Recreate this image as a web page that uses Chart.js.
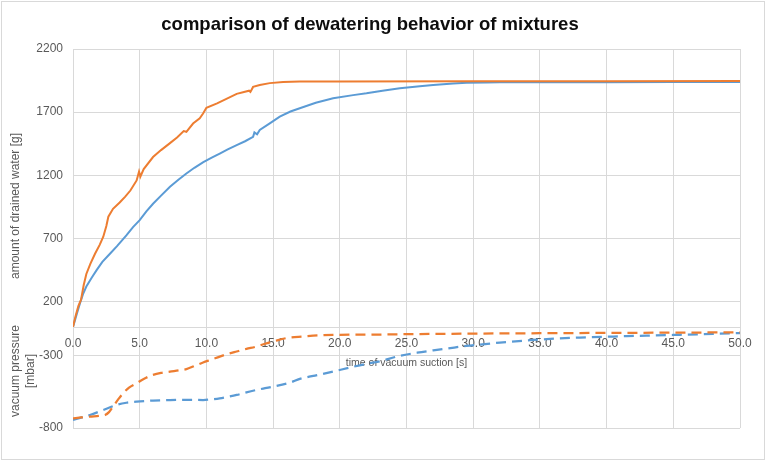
<!DOCTYPE html>
<html lang="en">
<head>
<meta charset="UTF-8">
<title>comparison of dewatering behavior of mixtures</title>
<script src="https://cdn.jsdelivr.net/npm/chart.js"></script>
<style>
    html, body {
        margin: 0;
        padding: 0;
        background: #fff;
    }
    .chart-container {
        position: relative;
        width: 768px;
        height: 461px;
    }
    .frame {
        position: absolute;
        left: 1px;
        top: 1px;
        width: 762px;
        height: 457px;
        border: 1px solid #d9d9d9;
        pointer-events: none;
    }
</style>
</head>
<body>
<div class="chart-container">
    <canvas id="dewateringChart"></canvas>
    <div class="frame"></div>
</div>

<script>
// drained water [g] over time [s]
const waterTimeA = [0, 0.2, 0.4, 0.5, 0.6, 0.8, 1.0, 1.3, 1.65, 2.0, 2.27, 2.5, 2.65, 3.0, 3.5, 3.9, 4.3, 4.77, 4.95, 5.05, 5.3, 6.0, 6.6, 7.27, 7.8, 8.3, 8.5, 9.0, 9.5, 9.75, 10.0, 10.8, 11.5, 12.27, 13.2, 13.3, 13.5, 14.0, 14.75, 15.75, 17, 20, 30, 40, 50];
const waterA = [0, 90, 165, 190, 215, 330, 420, 500, 580, 650, 715, 800, 873, 935, 985, 1030, 1080, 1160, 1230, 1190, 1250, 1345, 1400, 1455, 1500, 1550, 1545, 1610, 1652, 1690, 1735, 1770, 1805, 1845, 1870, 1860, 1900, 1915, 1930, 1939, 1942, 1943, 1944, 1945, 1946];

const waterTimeB = [0, 0.3, 0.52, 0.75, 1.0, 1.4, 1.77, 2.2, 2.77, 3.3, 4.0, 4.5, 5.0, 5.5, 6.0, 6.6, 7.27, 7.9, 8.5, 9.1, 9.77, 10.4, 11.0, 11.6, 12.27, 12.9, 13.5, 13.6, 13.8, 14.0, 14.75, 15.5, 16.3, 17.0, 18.2, 19.5, 21.0, 22.0, 23.2, 24.5, 26.0, 27.0, 28.5, 29.5, 31.0, 32.0, 36, 40, 45, 50];
const waterB = [0, 110, 187, 260, 320, 390, 450, 515, 580, 640, 725, 790, 845, 915, 975, 1040, 1110, 1165, 1215, 1260, 1305, 1340, 1372, 1405, 1440, 1470, 1505, 1540, 1525, 1560, 1612, 1665, 1705, 1731, 1775, 1810, 1835, 1849, 1870, 1889, 1905, 1915, 1927, 1933, 1935, 1936, 1937, 1937, 1938, 1938];

// vacuum pressure [mbar] over time [s]
const pressTimeA = [0, 0.6, 1.27, 2.0, 2.4, 2.7, 3.0, 3.4, 3.75, 4.2, 4.77, 5.3, 6.0, 6.6, 7.27, 8.0, 8.5, 9.1, 9.75, 10.4, 11.0, 11.6, 12.27, 13.0, 13.77, 14.4, 15.0, 16.0, 17.27, 18.4, 20, 22, 25, 30, 35, 40, 45, 50];
const pressA = [-733, -727, -721, -715, -710, -690, -652, -600, -559, -520, -490, -460, -432, -418, -409, -400, -392, -370, -346, -325, -305, -287, -270, -252, -235, -216, -201, -177, -166, -158, -154, -153, -150, -146, -143, -141, -139, -137];

const pressTimeB = [0, 0.6, 1.27, 2.27, 3.27, 4.0, 4.77, 6.0, 7.27, 8.5, 9.75, 10.4, 11.0, 11.6, 12.27, 13.0, 13.77, 14.4, 15.0, 16.27, 17.0, 18.4, 19.5, 20.8, 22.0, 22.8, 24.5, 25.8, 27.0, 28.0, 29.5, 30.5, 32.0, 34.5, 35.5, 38, 40.5, 43, 45.5, 48, 50];
const pressB = [-744, -728, -710, -675, -640, -625, -617, -610, -606, -605, -606, -601, -594, -584, -571, -553, -536, -524, -513, -485, -460, -432, -409, -380, -355, -342, -300, -278, -262, -250, -231, -222, -208, -190, -184, -173, -166, -160, -154, -147, -142];

const waterTicks = [200, 700, 1200, 1700, 2200];
const pressTicks = [-800, -300];

const orange = '#ED7D31';
const blue = '#5B9BD5';
const textColor = '#595959';
const gridColor = '#d9d9d9';
const fontFamily = '"Liberation Sans", Arial, sans-serif';

function toPoints(times, values) {
    return times.map((t, i) => ({ x: t, y: values[i] }));
}

// vertical axis titles, placed like in the original sheet
const axisTitles = {
    id: 'axisTitles',
    afterDraw(chart) {
        const ctx = chart.ctx;
        ctx.save();
        ctx.fillStyle = textColor;
        ctx.font = '12px ' + fontFamily;
        ctx.textAlign = 'center';
        ctx.textBaseline = 'middle';
        const lines = [
            { text: 'amount of drained water [g]', x: 16, y: 206 },
            { text: 'vacuum pressure', x: 16, y: 371 },
            { text: '[mbar]', x: 31, y: 371 }
        ];
        lines.forEach(l => {
            ctx.save();
            ctx.translate(l.x, l.y);
            ctx.rotate(-Math.PI / 2);
            ctx.fillText(l.text, 0, 0);
            ctx.restore();
        });
        ctx.restore();
    }
};

const ctx = document.getElementById('dewateringChart').getContext('2d');
new Chart(ctx, {
    type: 'line',
    data: {
        datasets: [
            {
                label: 'water A',
                data: toPoints(waterTimeA, waterA),
                borderColor: orange,
                borderWidth: 2,
                yAxisID: 'y',
                order: 1
            },
            {
                label: 'water B',
                data: toPoints(waterTimeB, waterB),
                borderColor: blue,
                borderWidth: 2,
                yAxisID: 'y',
                order: 2
            },
            {
                label: 'pressure A',
                data: toPoints(pressTimeA, pressA),
                borderColor: orange,
                borderWidth: 2.25,
                borderDash: [10, 6],
                cubicInterpolationMode: 'monotone',
                yAxisID: 'y2',
                order: 3
            },
            {
                label: 'pressure B',
                data: toPoints(pressTimeB, pressB),
                borderColor: blue,
                borderWidth: 2.25,
                borderDash: [10, 6],
                cubicInterpolationMode: 'monotone',
                yAxisID: 'y2',
                order: 4
            }
        ]
    },
    options: {
        responsive: true,
        maintainAspectRatio: false,
        animation: false,
        elements: {
            point: { radius: 0 },
            line: { tension: 0 }
        },
        layout: {
            padding: { left: 0, right: 28, top: 0, bottom: 33 }
        },
        plugins: {
            legend: { display: false },
            tooltip: { enabled: false },
            title: {
                display: true,
                text: 'comparison of dewatering behavior of mixtures',
                color: '#0d0d0d',
                font: { family: fontFamily, size: 18.5, weight: 'bold' },
                padding: { top: 14, bottom: 12.8 }
            }
        },
        scales: {
            // lower stack part first, the layout puts it below
            y2: {
                type: 'linear',
                position: 'left',
                stack: 'left',
                stackWeight: 101,
                min: -800,
                max: -100,
                afterBuildTicks: s => { s.ticks = pressTicks.map(v => ({ value: v })); },
                afterFit: s => { s.width = 73; },
                ticks: {
                    color: textColor,
                    font: { family: fontFamily, size: 12 },
                    padding: 10,
                    callback: v => String(v)
                },
                grid: { color: gridColor, drawTicks: false },
                border: { color: gridColor }
            },
            y: {
                type: 'linear',
                position: 'left',
                stack: 'left',
                stackWeight: 278,
                min: 0,
                max: 2200,
                afterBuildTicks: s => { s.ticks = waterTicks.map(v => ({ value: v })); },
                afterFit: s => { s.width = 73; },
                ticks: {
                    color: textColor,
                    font: { family: fontFamily, size: 12 },
                    padding: 10,
                    callback: v => String(v)
                },
                grid: { color: gridColor, drawTicks: false },
                border: { color: gridColor }
            },
            x: {
                type: 'linear',
                position: { y: 0 },
                min: 0,
                max: 50,
                ticks: {
                    stepSize: 5,
                    color: textColor,
                    font: { family: fontFamily, size: 12 },
                    padding: 9,
                    maxRotation: 0,
                    callback: v => v.toFixed(1)
                },
                grid: { color: gridColor, drawTicks: false },
                border: { color: gridColor },
                title: {
                    display: true,
                    text: 'time of vacuum suction [s]',
                    color: textColor,
                    font: { family: fontFamily, size: 10.5 },
                    padding: { top: -3, bottom: 0 }
                }
            }
        }
    },
    plugins: [axisTitles]
});
</script>
</body>
</html>
